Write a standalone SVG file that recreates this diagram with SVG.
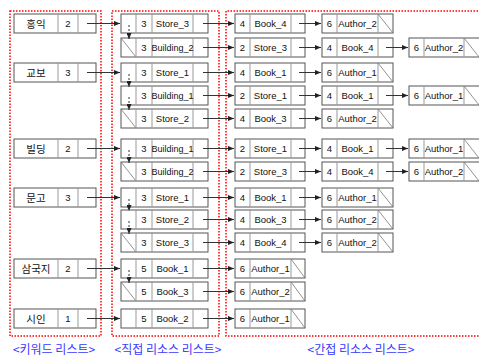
<svg xmlns="http://www.w3.org/2000/svg" width="479" height="357" viewBox="0 0 479 357">
<style>
.bg{fill:#fff}
.box{fill:#fff;stroke:#555;stroke-width:1}
.dv{stroke:#999;stroke-width:1}
.sl{stroke:#777;stroke-width:0.8}
.t{font-family:"Liberation Sans",Arial,sans-serif;font-size:9.5px;fill:#111;text-anchor:middle}
.tb{font-family:"Liberation Sans",Arial,sans-serif;font-size:9px;fill:#111;text-anchor:middle}
.k{font-family:"Noto Sans CJK KR",sans-serif;font-size:10.5px;fill:#111;text-anchor:middle}
.red{fill:none;stroke:#ff0000;stroke-width:1.5;stroke-dasharray:1.5,1.5}
.lbl{font-family:"Noto Sans CJK KR",sans-serif;font-size:12px;fill:#3a3aff;text-anchor:middle}
.c{stroke:#333;stroke-width:1;fill:none;marker-end:url(#ah)}
.d{stroke:#333;stroke-width:1;fill:none;stroke-dasharray:2,2;marker-end:url(#ah)}
</style>
<defs>
<marker id="ah" viewBox="0 0 6 5" refX="6" refY="2.5" markerWidth="6" markerHeight="5" orient="auto" markerUnits="userSpaceOnUse"><path d="M0,0 L6,2.5 L0,5 z" fill="#222"/></marker>
</defs>
<rect class="bg" x="0" y="0" width="479" height="357"/>
<g id="regions">
<rect class="red" x="10" y="11" width="91" height="325"/>
<rect class="red" x="112" y="11" width="107" height="325"/>
<path class="red" d="M490,11 H226 V336 H490"/>
<text class="lbl" x="54" y="354">&lt;키워드 리스트&gt;</text>
<text class="lbl" x="168" y="354">&lt;직접 리소스 리스트&gt;</text>
<text class="lbl" x="361" y="354">&lt;간접 리소스 리스트&gt;</text>
</g>
<!-- keyword nodes -->
<g id="kw-hongik"><rect class="box" x="14" y="14" width="82" height="19"/><line class="dv" x1="58" y1="14" x2="58" y2="33"/><line class="dv" x1="78" y1="14" x2="78" y2="33"/><text class="k" x="36" y="27.5">홍익</text><text class="t" x="68" y="27">2</text></g>
<g id="kw-kyobo"><rect class="box" x="14" y="63" width="82" height="19"/><line class="dv" x1="58" y1="63" x2="58" y2="82"/><line class="dv" x1="78" y1="63" x2="78" y2="82"/><text class="k" x="36" y="76.5">교보</text><text class="t" x="68" y="76">3</text></g>
<g id="kw-building"><rect class="box" x="14" y="139" width="82" height="19"/><line class="dv" x1="58" y1="139" x2="58" y2="158"/><line class="dv" x1="78" y1="139" x2="78" y2="158"/><text class="k" x="36" y="152.5">빌딩</text><text class="t" x="68" y="152">2</text></g>
<g id="kw-mungo"><rect class="box" x="14" y="188" width="82" height="19"/><line class="dv" x1="58" y1="188" x2="58" y2="207"/><line class="dv" x1="78" y1="188" x2="78" y2="207"/><text class="k" x="36" y="201.5">문고</text><text class="t" x="68" y="201">3</text></g>
<g id="kw-samgukji"><rect class="box" x="14" y="259" width="82" height="19"/><line class="dv" x1="58" y1="259" x2="58" y2="278"/><line class="dv" x1="78" y1="259" x2="78" y2="278"/><text class="k" x="36" y="272.5">삼국지</text><text class="t" x="68" y="272">2</text></g>
<g id="kw-siin"><rect class="box" x="14" y="309" width="82" height="19"/><line class="dv" x1="58" y1="309" x2="58" y2="328"/><line class="dv" x1="78" y1="309" x2="78" y2="328"/><text class="k" x="36" y="322.5">시인</text><text class="t" x="68" y="322">1</text></g>
<!-- direct list nodes -->
<g id="d-A"><rect class="box" x="121" y="14" width="87" height="19"/><line class="dv" x1="136" y1="14" x2="136" y2="33"/><line class="dv" x1="152" y1="14" x2="152" y2="33"/><line class="dv" x1="193" y1="14" x2="193" y2="33"/><text class="t" x="144" y="27">3</text><text class="t" x="172.5" y="27">Store_3</text></g>
<g id="d-B"><rect class="box" x="121" y="38" width="87" height="19"/><line class="sl" x1="121" y1="38" x2="136" y2="57"/><line class="dv" x1="136" y1="38" x2="136" y2="57"/><line class="dv" x1="152" y1="38" x2="152" y2="57"/><line class="dv" x1="193" y1="38" x2="193" y2="57"/><text class="t" x="144" y="51">3</text><text class="tb" x="172.5" y="51">Building_2</text></g>
<g id="d-C"><rect class="box" x="121" y="63" width="87" height="19"/><line class="dv" x1="136" y1="63" x2="136" y2="82"/><line class="dv" x1="152" y1="63" x2="152" y2="82"/><line class="dv" x1="193" y1="63" x2="193" y2="82"/><text class="t" x="144" y="76">3</text><text class="t" x="172.5" y="76">Store_1</text></g>
<g id="d-D"><rect class="box" x="121" y="86" width="87" height="19"/><line class="dv" x1="136" y1="86" x2="136" y2="105"/><line class="dv" x1="152" y1="86" x2="152" y2="105"/><line class="dv" x1="193" y1="86" x2="193" y2="105"/><text class="t" x="144" y="99">3</text><text class="tb" x="172.5" y="99">Building_1</text></g>
<g id="d-E"><rect class="box" x="121" y="109" width="87" height="19"/><line class="sl" x1="121" y1="109" x2="136" y2="128"/><line class="dv" x1="136" y1="109" x2="136" y2="128"/><line class="dv" x1="152" y1="109" x2="152" y2="128"/><line class="dv" x1="193" y1="109" x2="193" y2="128"/><text class="t" x="144" y="122">3</text><text class="t" x="172.5" y="122">Store_2</text></g>
<g id="d-F"><rect class="box" x="121" y="139" width="87" height="19"/><line class="dv" x1="136" y1="139" x2="136" y2="158"/><line class="dv" x1="152" y1="139" x2="152" y2="158"/><line class="dv" x1="193" y1="139" x2="193" y2="158"/><text class="t" x="144" y="152">3</text><text class="tb" x="172.5" y="152">Building_1</text></g>
<g id="d-G"><rect class="box" x="121" y="162" width="87" height="19"/><line class="sl" x1="121" y1="162" x2="136" y2="181"/><line class="dv" x1="136" y1="162" x2="136" y2="181"/><line class="dv" x1="152" y1="162" x2="152" y2="181"/><line class="dv" x1="193" y1="162" x2="193" y2="181"/><text class="t" x="144" y="175">3</text><text class="tb" x="172.5" y="175">Building_2</text></g>
<g id="d-H"><rect class="box" x="121" y="188" width="87" height="19"/><line class="dv" x1="136" y1="188" x2="136" y2="207"/><line class="dv" x1="152" y1="188" x2="152" y2="207"/><line class="dv" x1="193" y1="188" x2="193" y2="207"/><text class="t" x="144" y="201">3</text><text class="t" x="172.5" y="201">Store_1</text></g>
<g id="d-I"><rect class="box" x="121" y="210" width="87" height="19"/><line class="dv" x1="136" y1="210" x2="136" y2="229"/><line class="dv" x1="152" y1="210" x2="152" y2="229"/><line class="dv" x1="193" y1="210" x2="193" y2="229"/><text class="t" x="144" y="223">3</text><text class="t" x="172.5" y="223">Store_2</text></g>
<g id="d-J"><rect class="box" x="121" y="233" width="87" height="19"/><line class="sl" x1="121" y1="233" x2="136" y2="252"/><line class="dv" x1="136" y1="233" x2="136" y2="252"/><line class="dv" x1="152" y1="233" x2="152" y2="252"/><line class="dv" x1="193" y1="233" x2="193" y2="252"/><text class="t" x="144" y="246">3</text><text class="t" x="172.5" y="246">Store_3</text></g>
<g id="d-K"><rect class="box" x="121" y="259" width="87" height="19"/><line class="dv" x1="136" y1="259" x2="136" y2="278"/><line class="dv" x1="152" y1="259" x2="152" y2="278"/><line class="dv" x1="193" y1="259" x2="193" y2="278"/><text class="t" x="144" y="272">5</text><text class="t" x="172.5" y="272">Book_1</text></g>
<g id="d-L"><rect class="box" x="121" y="282" width="87" height="19"/><line class="sl" x1="121" y1="282" x2="136" y2="301"/><line class="dv" x1="136" y1="282" x2="136" y2="301"/><line class="dv" x1="152" y1="282" x2="152" y2="301"/><line class="dv" x1="193" y1="282" x2="193" y2="301"/><text class="t" x="144" y="295">5</text><text class="t" x="172.5" y="295">Book_3</text></g>
<g id="d-M"><rect class="box" x="121" y="309" width="87" height="19"/><line class="dv" x1="136" y1="309" x2="136" y2="328"/><line class="dv" x1="152" y1="309" x2="152" y2="328"/><line class="dv" x1="193" y1="309" x2="193" y2="328"/><text class="t" x="144" y="322">5</text><text class="t" x="172.5" y="322">Book_2</text></g>
<!-- indirect column 1 -->
<g id="i1-A"><rect class="box" x="235" y="14" width="70" height="19"/><line class="dv" x1="250" y1="14" x2="250" y2="33"/><line class="dv" x1="291" y1="14" x2="291" y2="33"/><text class="t" x="242.5" y="27">4</text><text class="t" x="270.5" y="27">Book_4</text></g>
<g id="i1-B"><rect class="box" x="235" y="38" width="70" height="19"/><line class="dv" x1="250" y1="38" x2="250" y2="57"/><line class="dv" x1="291" y1="38" x2="291" y2="57"/><text class="t" x="242.5" y="51">2</text><text class="t" x="270.5" y="51">Store_3</text></g>
<g id="i1-C"><rect class="box" x="235" y="63" width="70" height="19"/><line class="dv" x1="250" y1="63" x2="250" y2="82"/><line class="dv" x1="291" y1="63" x2="291" y2="82"/><text class="t" x="242.5" y="76">4</text><text class="t" x="270.5" y="76">Book_1</text></g>
<g id="i1-D"><rect class="box" x="235" y="86" width="70" height="19"/><line class="dv" x1="250" y1="86" x2="250" y2="105"/><line class="dv" x1="291" y1="86" x2="291" y2="105"/><text class="t" x="242.5" y="99">2</text><text class="t" x="270.5" y="99">Store_1</text></g>
<g id="i1-E"><rect class="box" x="235" y="109" width="70" height="19"/><line class="dv" x1="250" y1="109" x2="250" y2="128"/><line class="dv" x1="291" y1="109" x2="291" y2="128"/><text class="t" x="242.5" y="122">4</text><text class="t" x="270.5" y="122">Book_3</text></g>
<g id="i1-F"><rect class="box" x="235" y="139" width="70" height="19"/><line class="dv" x1="250" y1="139" x2="250" y2="158"/><line class="dv" x1="291" y1="139" x2="291" y2="158"/><text class="t" x="242.5" y="152">2</text><text class="t" x="270.5" y="152">Store_1</text></g>
<g id="i1-G"><rect class="box" x="235" y="162" width="70" height="19"/><line class="dv" x1="250" y1="162" x2="250" y2="181"/><line class="dv" x1="291" y1="162" x2="291" y2="181"/><text class="t" x="242.5" y="175">2</text><text class="t" x="270.5" y="175">Store_3</text></g>
<g id="i1-H"><rect class="box" x="235" y="188" width="70" height="19"/><line class="dv" x1="250" y1="188" x2="250" y2="207"/><line class="dv" x1="291" y1="188" x2="291" y2="207"/><text class="t" x="242.5" y="201">4</text><text class="t" x="270.5" y="201">Book_1</text></g>
<g id="i1-I"><rect class="box" x="235" y="210" width="70" height="19"/><line class="dv" x1="250" y1="210" x2="250" y2="229"/><line class="dv" x1="291" y1="210" x2="291" y2="229"/><text class="t" x="242.5" y="223">4</text><text class="t" x="270.5" y="223">Book_3</text></g>
<g id="i1-J"><rect class="box" x="235" y="233" width="70" height="19"/><line class="dv" x1="250" y1="233" x2="250" y2="252"/><line class="dv" x1="291" y1="233" x2="291" y2="252"/><text class="t" x="242.5" y="246">4</text><text class="t" x="270.5" y="246">Book_4</text></g>
<g id="i1-K"><rect class="box" x="235" y="259" width="70" height="19"/><line class="dv" x1="250" y1="259" x2="250" y2="278"/><line class="dv" x1="291" y1="259" x2="291" y2="278"/><line class="sl" x1="291" y1="259" x2="305" y2="278"/><text class="t" x="242.5" y="272">6</text><text class="t" x="270.5" y="272">Author_1</text></g>
<g id="i1-L"><rect class="box" x="235" y="282" width="70" height="19"/><line class="dv" x1="250" y1="282" x2="250" y2="301"/><line class="dv" x1="291" y1="282" x2="291" y2="301"/><line class="sl" x1="291" y1="282" x2="305" y2="301"/><text class="t" x="242.5" y="295">6</text><text class="t" x="270.5" y="295">Author_2</text></g>
<g id="i1-M"><rect class="box" x="235" y="309" width="70" height="19"/><line class="dv" x1="250" y1="309" x2="250" y2="328"/><line class="dv" x1="291" y1="309" x2="291" y2="328"/><line class="sl" x1="291" y1="309" x2="305" y2="328"/><text class="t" x="242.5" y="322">6</text><text class="t" x="270.5" y="322">Author_1</text></g>
<!-- indirect column 2 -->
<g id="i2-A"><rect class="box" x="322" y="14" width="71" height="19"/><line class="dv" x1="337" y1="14" x2="337" y2="33"/><line class="dv" x1="378" y1="14" x2="378" y2="33"/><line class="sl" x1="378" y1="14" x2="393" y2="33"/><text class="t" x="329.5" y="27">6</text><text class="t" x="357.5" y="27">Author_2</text></g>
<g id="i2-B"><rect class="box" x="322" y="38" width="71" height="19"/><line class="dv" x1="337" y1="38" x2="337" y2="57"/><line class="dv" x1="378" y1="38" x2="378" y2="57"/><text class="t" x="329.5" y="51">4</text><text class="t" x="357.5" y="51">Book_4</text></g>
<g id="i2-C"><rect class="box" x="322" y="63" width="71" height="19"/><line class="dv" x1="337" y1="63" x2="337" y2="82"/><line class="dv" x1="378" y1="63" x2="378" y2="82"/><line class="sl" x1="378" y1="63" x2="393" y2="82"/><text class="t" x="329.5" y="76">6</text><text class="t" x="357.5" y="76">Author_1</text></g>
<g id="i2-D"><rect class="box" x="322" y="86" width="71" height="19"/><line class="dv" x1="337" y1="86" x2="337" y2="105"/><line class="dv" x1="378" y1="86" x2="378" y2="105"/><text class="t" x="329.5" y="99">4</text><text class="t" x="357.5" y="99">Book_1</text></g>
<g id="i2-E"><rect class="box" x="322" y="109" width="71" height="19"/><line class="dv" x1="337" y1="109" x2="337" y2="128"/><line class="dv" x1="378" y1="109" x2="378" y2="128"/><line class="sl" x1="378" y1="109" x2="393" y2="128"/><text class="t" x="329.5" y="122">6</text><text class="t" x="357.5" y="122">Author_2</text></g>
<g id="i2-F"><rect class="box" x="322" y="139" width="71" height="19"/><line class="dv" x1="337" y1="139" x2="337" y2="158"/><line class="dv" x1="378" y1="139" x2="378" y2="158"/><text class="t" x="329.5" y="152">4</text><text class="t" x="357.5" y="152">Book_1</text></g>
<g id="i2-G"><rect class="box" x="322" y="162" width="71" height="19"/><line class="dv" x1="337" y1="162" x2="337" y2="181"/><line class="dv" x1="378" y1="162" x2="378" y2="181"/><text class="t" x="329.5" y="175">4</text><text class="t" x="357.5" y="175">Book_4</text></g>
<g id="i2-H"><rect class="box" x="322" y="188" width="71" height="19"/><line class="dv" x1="337" y1="188" x2="337" y2="207"/><line class="dv" x1="378" y1="188" x2="378" y2="207"/><line class="sl" x1="378" y1="188" x2="393" y2="207"/><text class="t" x="329.5" y="201">6</text><text class="t" x="357.5" y="201">Author_1</text></g>
<g id="i2-I"><rect class="box" x="322" y="210" width="71" height="19"/><line class="dv" x1="337" y1="210" x2="337" y2="229"/><line class="dv" x1="378" y1="210" x2="378" y2="229"/><line class="sl" x1="378" y1="210" x2="393" y2="229"/><text class="t" x="329.5" y="223">6</text><text class="t" x="357.5" y="223">Author_2</text></g>
<g id="i2-J"><rect class="box" x="322" y="233" width="71" height="19"/><line class="dv" x1="337" y1="233" x2="337" y2="252"/><line class="dv" x1="378" y1="233" x2="378" y2="252"/><line class="sl" x1="378" y1="233" x2="393" y2="252"/><text class="t" x="329.5" y="246">6</text><text class="t" x="357.5" y="246">Author_2</text></g>
<!-- indirect column 3 -->
<g id="i3-B"><rect class="box" x="409" y="38" width="71" height="19"/><line class="dv" x1="424" y1="38" x2="424" y2="57"/><line class="dv" x1="464" y1="38" x2="464" y2="57"/><line class="sl" x1="464" y1="38" x2="479" y2="57"/><text class="t" x="416.5" y="51">6</text><text class="t" x="444" y="51">Author_2</text></g>
<g id="i3-D"><rect class="box" x="409" y="86" width="71" height="19"/><line class="dv" x1="424" y1="86" x2="424" y2="105"/><line class="dv" x1="464" y1="86" x2="464" y2="105"/><line class="sl" x1="464" y1="86" x2="479" y2="105"/><text class="t" x="416.5" y="99">6</text><text class="t" x="444" y="99">Author_1</text></g>
<g id="i3-F"><rect class="box" x="409" y="139" width="71" height="19"/><line class="dv" x1="424" y1="139" x2="424" y2="158"/><line class="dv" x1="464" y1="139" x2="464" y2="158"/><line class="sl" x1="464" y1="139" x2="479" y2="158"/><text class="t" x="416.5" y="152">6</text><text class="t" x="444" y="152">Author_1</text></g>
<g id="i3-G"><rect class="box" x="409" y="162" width="71" height="19"/><line class="dv" x1="424" y1="162" x2="424" y2="181"/><line class="dv" x1="464" y1="162" x2="464" y2="181"/><line class="sl" x1="464" y1="162" x2="479" y2="181"/><text class="t" x="416.5" y="175">6</text><text class="t" x="444" y="175">Author_2</text></g>
<g id="connectors">
<line class="c" x1="87" y1="23.5" x2="120" y2="23.5"/>
<line class="c" x1="87" y1="72.5" x2="120" y2="72.5"/>
<line class="c" x1="87" y1="148.5" x2="120" y2="148.5"/>
<line class="c" x1="87" y1="197.5" x2="120" y2="197.5"/>
<line class="c" x1="87" y1="268.5" x2="120" y2="268.5"/>
<line class="c" x1="87" y1="318.5" x2="120" y2="318.5"/>
<line class="c" x1="203" y1="23.5" x2="234" y2="23.5"/>
<line class="c" x1="203" y1="47.5" x2="234" y2="47.5"/>
<line class="c" x1="203" y1="72.5" x2="234" y2="72.5"/>
<line class="c" x1="203" y1="95.5" x2="234" y2="95.5"/>
<line class="c" x1="203" y1="118.5" x2="234" y2="118.5"/>
<line class="c" x1="203" y1="148.5" x2="234" y2="148.5"/>
<line class="c" x1="203" y1="171.5" x2="234" y2="171.5"/>
<line class="c" x1="203" y1="197.5" x2="234" y2="197.5"/>
<line class="c" x1="203" y1="219.5" x2="234" y2="219.5"/>
<line class="c" x1="203" y1="242.5" x2="234" y2="242.5"/>
<line class="c" x1="203" y1="268.5" x2="234" y2="268.5"/>
<line class="c" x1="203" y1="291.5" x2="234" y2="291.5"/>
<line class="c" x1="203" y1="318.5" x2="234" y2="318.5"/>
<line class="c" x1="299" y1="23.5" x2="321" y2="23.5"/>
<line class="c" x1="299" y1="47.5" x2="321" y2="47.5"/>
<line class="c" x1="299" y1="72.5" x2="321" y2="72.5"/>
<line class="c" x1="299" y1="95.5" x2="321" y2="95.5"/>
<line class="c" x1="299" y1="118.5" x2="321" y2="118.5"/>
<line class="c" x1="299" y1="148.5" x2="321" y2="148.5"/>
<line class="c" x1="299" y1="171.5" x2="321" y2="171.5"/>
<line class="c" x1="299" y1="197.5" x2="321" y2="197.5"/>
<line class="c" x1="299" y1="219.5" x2="321" y2="219.5"/>
<line class="c" x1="299" y1="242.5" x2="321" y2="242.5"/>
<line class="c" x1="386" y1="47.5" x2="408" y2="47.5"/>
<line class="c" x1="386" y1="95.5" x2="408" y2="95.5"/>
<line class="c" x1="386" y1="148.5" x2="408" y2="148.5"/>
<line class="c" x1="386" y1="171.5" x2="408" y2="171.5"/>
<line class="d" x1="129" y1="25" x2="129" y2="39"/>
<line class="d" x1="129" y1="74" x2="129" y2="87"/>
<line class="d" x1="129" y1="97" x2="129" y2="110"/>
<line class="d" x1="129" y1="150" x2="129" y2="163"/>
<line class="d" x1="129" y1="199" x2="129" y2="211"/>
<line class="d" x1="129" y1="221" x2="129" y2="234"/>
<line class="d" x1="129" y1="270" x2="129" y2="283"/>
</g>
</svg>
